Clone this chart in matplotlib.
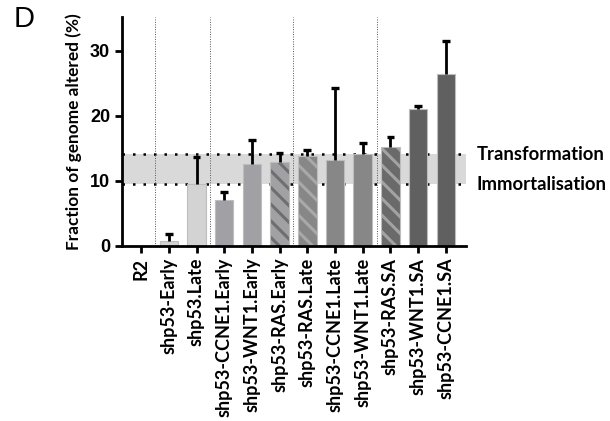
import numpy as np
import matplotlib
matplotlib.use("Agg")
import matplotlib.pyplot as plt
import matplotlib.transforms as mtransforms

# values (percent of genome altered, mean and upper error)
labels = ["R2", "shp53-Early", "shp53.Late", "shp53-CCNE1.Early", "shp53-WNT1.Early",
          "shp53-RAS.Early", "shp53-RAS.Late", "shp53-CCNE1.Late", "shp53-WNT1.Late",
          "shp53-RAS.SA", "shp53-WNT1.SA", "shp53-CCNE1.SA"]
means = [0.0, 0.7, 9.5, 7.1, 12.6, 12.9, 13.85, 13.2, 14.1, 15.2, 21.1, 26.4]
errs = [0.0, 1.05, 4.1, 1.2, 3.7, 1.4, 0.85, 11.0, 1.75, 1.5, 0.4, 5.1]
colors = ["#d4d4d4", "#d2d2d2", "#d3d3d3", "#a1a1a5", "#a1a1a5", "#a1a1a5",
          "#878787", "#878787", "#878787", "#6a6a6a", "#606060", "#606060"]
hatched = [False, False, False, False, False, True, True, False, False, True, False, False]
hatch_colors = {5: "#6e6e6e", 6: "#a9a9a9", 9: "#a3a3a3"}

immortal = 9.45
transform_lvl = 14.1
group_breaks = [0.5, 2.5, 5.5, 8.5]

plt.rcParams["hatch.linewidth"] = 2.2
plt.rcParams["font.family"] = ["Lato", "DejaVu Sans"]

fig = plt.figure(figsize=(6.1, 4.21), dpi=100)
ax = fig.add_axes([0.2, 0.416, 0.564, 0.544])

x = np.arange(len(labels))

# threshold band
ax.axhspan(immortal, transform_lvl, color="#d9d9d9", zorder=0, lw=0)
ax.axhline(immortal, color="black", ls=(0, (1, 3.2)), lw=1.8, zorder=0.5)
ax.axhline(transform_lvl, color="black", ls=(0, (1, 3.2)), lw=1.8, zorder=0.5)

for b in group_breaks:
    ax.axvline(b, color="#555555", ls=(0, (1, 1.5)), lw=0.7, zorder=0.5)

for i in x:
    if hatched[i]:
        ax.bar(i, means[i], width=0.67, color=colors[i], edgecolor=hatch_colors[i],
               hatch="\\\\", linewidth=0, zorder=2)
        ax.bar(i, means[i], width=0.67, fill=False, edgecolor="#bdbdbd",
               linewidth=0.8, zorder=2.1)
    elif means[i] > 0:
        ax.bar(i, means[i], width=0.67, color=colors[i], edgecolor="#bdbdbd",
               linewidth=0.8, zorder=2)

# upper-only error bars, no cap at the bar top
tops = np.array(means) + np.array(errs)
ax.vlines(x[1:], np.array(means)[1:], tops[1:], color="black", lw=2, zorder=3)
ax.hlines(tops[1:], x[1:] - 0.14, x[1:] + 0.14, color="black", lw=2.4, zorder=3)

ax.set_xlim(-0.69, 11.73)
ax.set_ylim(0, 35.2)
ax.set_yticks([0, 10, 20, 30])
ax.set_yticklabels(["0", "10", "20", "30"], family="Liberation Sans",
                   fontweight="bold", fontsize=13)
ax.set_xticks(x)
ax.set_xticklabels(labels, rotation=90, fontweight="bold", fontsize=13)
ax.set_ylabel("Fraction of genome altered (%)", fontweight="bold", fontsize=12.4,
              labelpad=6)

for s in ["top", "right"]:
    ax.spines[s].set_visible(False)
for s in ["left", "bottom"]:
    ax.spines[s].set_linewidth(2)
ax.tick_params(axis="both", width=2, length=5, direction="out")

trans = mtransforms.blended_transform_factory(ax.transAxes, ax.transData)
ax.text(1.03, transform_lvl, "Transformation", transform=trans, ha="left",
        va="center", fontweight="bold", fontsize=13.3)
ax.text(1.03, immortal, "Immortalisation", transform=trans, ha="left",
        va="center", fontweight="bold", fontsize=13.3)

fig.text(0.022, 0.955, "D", fontsize=21, va="center", ha="left",
         family="Liberation Sans")

fig.savefig("out.png", dpi=100)
